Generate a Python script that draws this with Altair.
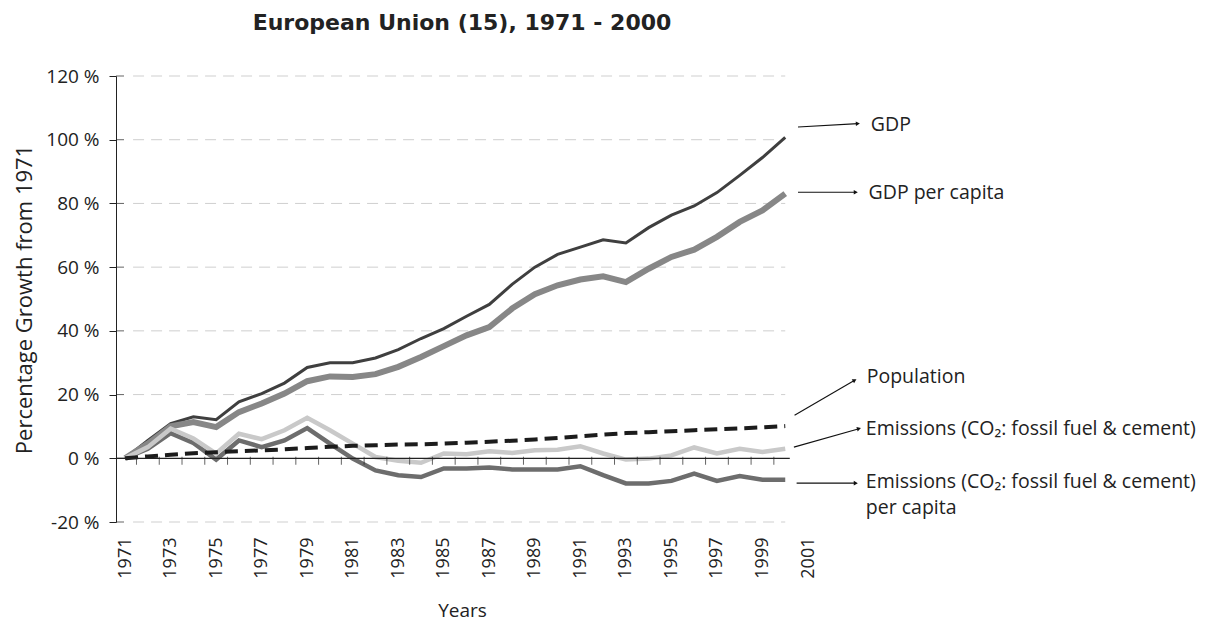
import altair as alt
import pandas as pd

# ---------------- data ----------------
years = list(range(1971, 2001))
gdp = [0, 5.6, 10.9, 13.0, 12.1, 17.7, 20.3, 23.6, 28.5, 30.0, 30.0, 31.5, 34.1, 37.6, 40.7,
       44.6, 48.3, 54.6, 60.0, 64.0, 66.3, 68.6, 67.6, 72.4, 76.3, 79.2, 83.4, 88.8, 94.4, 100.7]
gdp_pc = [0, 4.6, 10.0, 11.4, 9.8, 14.5, 17.2, 20.3, 24.2, 25.7, 25.5, 26.4, 28.7, 31.8, 35.2,
          38.6, 41.2, 47.0, 51.5, 54.3, 56.1, 57.1, 55.3, 59.5, 63.2, 65.5, 69.5, 74.2, 77.8, 83.1]
population = [0, 0.6, 1.1, 1.6, 1.9, 2.2, 2.5, 2.8, 3.2, 3.6, 3.9, 4.1, 4.3, 4.4, 4.6,
              4.9, 5.2, 5.5, 5.9, 6.4, 6.9, 7.4, 7.9, 8.2, 8.5, 8.8, 9.1, 9.4, 9.7, 10.1]
emissions = [0, 3.5, 9.3, 6.2, 1.5, 7.7, 6.0, 8.8, 12.7, 8.8, 4.6, 0.4, -0.8, -1.4, 1.5,
             1.3, 2.2, 1.7, 2.5, 2.7, 3.8, 1.5, -0.4, -0.1, 0.9, 3.4, 1.5, 3.0, 2.0, 3.0]
emissions_pc = [0, 3.0, 7.9, 4.8, -0.4, 5.6, 3.5, 5.6, 9.5, 4.6, -0.1, -3.8, -5.3, -5.9, -3.2,
                -3.2, -2.9, -3.5, -3.5, -3.5, -2.5, -5.3, -7.9, -7.9, -7.1, -4.8, -7.1, -5.6, -6.7, -6.7]

y_ticks = [-20, 0, 20, 40, 60, 80, 100, 120]
grid_values = [-20, 20, 40, 60, 80, 100, 120]
x_label_years = list(range(1971, 2002, 2))
x_tick_years = [y + 0.5 for y in range(1971, 2000)]

# annotations (data coordinates)
ann_text = ["GDP", "GDP per capita", "Population",
            "Emissions (CO\u2082: fossil fuel & cement)",
            "Emissions (CO\u2082: fossil fuel & cement)", "per capita"]
ann_text_x = [2003.76, 2003.66, 2003.58, 2003.54, 2003.54, 2003.54]
ann_text_y = [104.6, 83.4, 25.4, 9.1, -7.4, -15.7]

arrow_x1 = [2000.56, 2000.56, 2000.41, 2000.38, 2000.5]
arrow_y1 = [104.0, 83.5, 13.5, 3.5, -7.8]
arrow_x2 = [2003.19, 2003.1, 2003.05, 2003.24, 2003.1]
arrow_y2 = [105.05, 83.5, 24.5, 9.3, -7.8]
arrow_angle = [357, 0, 330, 344, 0]

FONT = "Open Sans"

# ---------------- scales / axes ----------------
xs = alt.Scale(domain=[1970.6, 2001], nice=False, zero=False)
ys = alt.Scale(domain=[-20, 120], nice=False, zero=False)

x_axis = alt.Axis(values=x_label_years, format="d", labelAngle=270, domain=False, ticks=False,
                  grid=False, labelPadding=15, titlePadding=23, labelFontSize=18,
                  titleFontSize=19, labelFont=FONT, titleFont=FONT, labelColor="#222",
                  titleColor="#222", titleFontWeight="normal", labelOverlap=False)
y_axis = alt.Axis(values=y_ticks, labelExpr="datum.value + ' %'", domain=True, domainColor="#222",
                  ticks=True, tickColor="#222", tickSize=7, grid=False, labelPadding=10,
                  titlePadding=9, labelFontSize=19, titleFontSize=22, labelFont=FONT,
                  titleFont=FONT, labelColor="#222", titleColor="#222", titleFontWeight="normal")


def X(field):
    return alt.X(field, type="quantitative", scale=xs, axis=x_axis, title="Years")


def Y(field):
    return alt.Y(field, type="quantitative", scale=ys, axis=y_axis,
                 title="Percentage Growth from 1971")


# ---------------- layers ----------------
grid_df = pd.DataFrame({"v": grid_values, "x1": 1971.35, "x2": 2000.0})
grid = alt.Chart(grid_df).mark_rule(color="#cfcfcf", strokeWidth=1, strokeDash=[11, 7]).encode(
    x=X("x1"), x2="x2", y=Y("v"))

zero_df = pd.DataFrame({"v": [0], "x1": [1970.6], "x2": [2000.2]})
zero = alt.Chart(zero_df).mark_rule(color="#222", strokeWidth=1.2).encode(
    x=X("x1"), x2="x2", y=Y("v"))

xt_df = pd.DataFrame({"t": x_tick_years, "v": 0})
xticks = alt.Chart(xt_df).mark_tick(orient="vertical", color="#222", size=8, thickness=1,
                                    yOffset=2.5).encode(x=X("t"), y=Y("v"))

yt_df = pd.DataFrame({"v": y_ticks, "x": 1970.6})
yticks = alt.Chart(yt_df).mark_tick(orient="horizontal", color="#222", size=8, thickness=1,
                                    xOffset=4).encode(x=X("x"), y=Y("v"))

series = [
    ("GDP", gdp, "#3f3f3f", 3, None),
    ("GDP per capita", gdp_pc, "#878787", 6, None),
    ("Emissions per capita", emissions_pc, "#6d6d6d", 4.5, None),
    ("Emissions", emissions, "#c9c9c9", 4.5, None),
    ("Population", population, "#1c1c1c", 4, [13, 7]),
]
line_layers = []
for name, vals, col, w, dash in series:
    df = pd.DataFrame({"year": years, "value": vals})
    kw = dict(color=col, strokeWidth=w, strokeJoin="miter", strokeCap="butt")
    if dash:
        kw["strokeDash"] = dash
    line_layers.append(alt.Chart(df).mark_line(**kw).encode(x=X("year"), y=Y("value")))

arr_df = pd.DataFrame({"x1": arrow_x1, "y1": arrow_y1, "x2": arrow_x2, "y2": arrow_y2,
                       "angle": arrow_angle})
arrows = alt.Chart(arr_df).mark_rule(color="#111", strokeWidth=1.1).encode(
    x=X("x1"), y=Y("y1"), x2="x2", y2="y2")
heads = alt.Chart(arr_df).mark_point(shape="triangle-right", filled=True, color="#111",
                                     size=22, opacity=1).encode(
    x=X("x2"), y=Y("y2"), angle=alt.Angle("angle:Q", scale=None))

txt_df = pd.DataFrame({"label": ann_text, "x": ann_text_x, "y": ann_text_y})
texts = alt.Chart(txt_df).mark_text(align="left", baseline="middle", font=FONT, fontSize=19.5,
                                    color="#222").encode(x=X("x"), y=Y("y"), text="label:N")

chart = alt.layer(grid, *line_layers, zero, xticks, yticks, arrows, heads, texts).properties(
    width=692, height=446,
    padding={"left": 5, "top": 4, "right": 5, "bottom": 2},
    title=alt.TitleParams("European Union (15), 1971 - 2000", font="DejaVu Sans", fontSize=22,
                          fontWeight="bold", color="#222", offset=32, anchor="middle"),
).configure(background="white", view=alt.ViewConfig(stroke=None))

chart.save("out.html", embed_options={"renderer": "svg", "actions": False})
